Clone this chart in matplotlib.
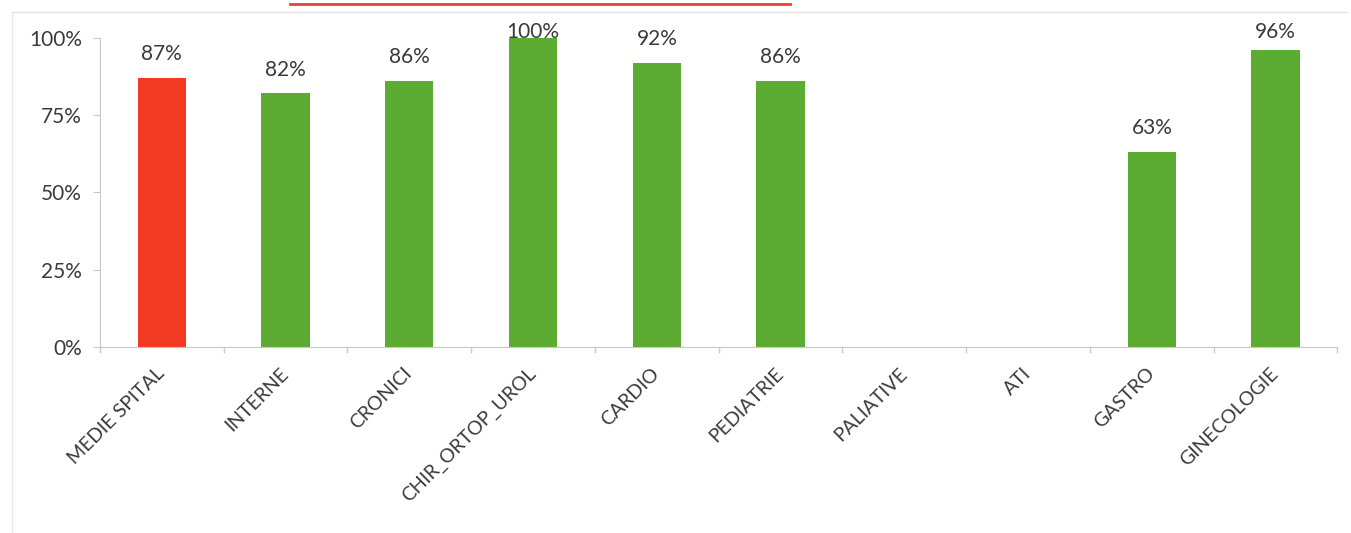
import matplotlib.pyplot as plt
from matplotlib.lines import Line2D

plt.rcParams['font.family'] = ['Lato', 'DejaVu Sans']

sectii = ["MEDIE SPITAL", "INTERNE", "CRONICI", "CHIR_ORTOP_UROL", "CARDIO",
          "PEDIATRIE", "PALIATIVE", "ATI", "GASTRO", "GINECOLOGIE"]
procente = [87, 82, 86, 100, 92, 86, 0, 0, 63, 96]
etichete = ["87%", "82%", "86%", "100%", "92%", "86%", "", "", "63%", "96%"]
y_ticks = [0, 25, 50, 75, 100]

RED = "#f23a22"
GREEN = "#5cab33"
TEXT = "#3a3a3a"

fig = plt.figure(figsize=(13.51, 5.33), dpi=100)
ax = fig.add_axes([0.074, 0.349, 0.916, 0.580])

culori = [RED] + [GREEN] * (len(sectii) - 1)
x = range(len(sectii))
bars = ax.bar(x, procente, width=0.39, color=culori)

# value labels sit above the bars, but never above the top of the plot area
for b, lab in zip(bars, etichete):
    if lab:
        y_lab = min(b.get_height() + 5.8, 100)
        ax.text(b.get_x() + b.get_width() / 2, y_lab, lab, ha="center",
                va="baseline", fontsize=15, color=TEXT, clip_on=False)

ax.set_xlim(-0.5, len(sectii) - 0.5)
ax.set_ylim(0, 100)
ax.set_yticks(y_ticks)
ax.set_yticklabels([f"{v}%" for v in y_ticks], fontsize=15, color=TEXT)
ax.set_xticks(x)
ax.set_xticklabels(sectii, rotation=45, ha="right", va="center",
                   rotation_mode="anchor", fontsize=14, color=TEXT)
ax.tick_params(axis="x", length=0, pad=17)
ax.tick_params(axis="y", length=5, color="#c8c8c8", pad=8)

# category separator ticks on the x axis
for i in range(len(sectii) + 1):
    ax.plot([i - 0.5, i - 0.5], [0, -1.6], color="#c8c8c8", lw=1, clip_on=False)

for side in ["top", "right"]:
    ax.spines[side].set_visible(False)
ax.spines["left"].set_color("#c8c8c8")
ax.spines["bottom"].set_color("#c8c8c8")

# chart area frame and the underline of the heading
fig.add_artist(Line2D([0.009, 0.997], [0.977, 0.977], color="#e2e2e2", lw=1))
fig.add_artist(Line2D([0.009, 0.009], [0.0, 0.977], color="#e8e8e8", lw=1))
fig.add_artist(Line2D([0.215, 0.585], [0.992, 0.992], color="#e8413a", lw=2))

fig.savefig("out.png", dpi=100)
